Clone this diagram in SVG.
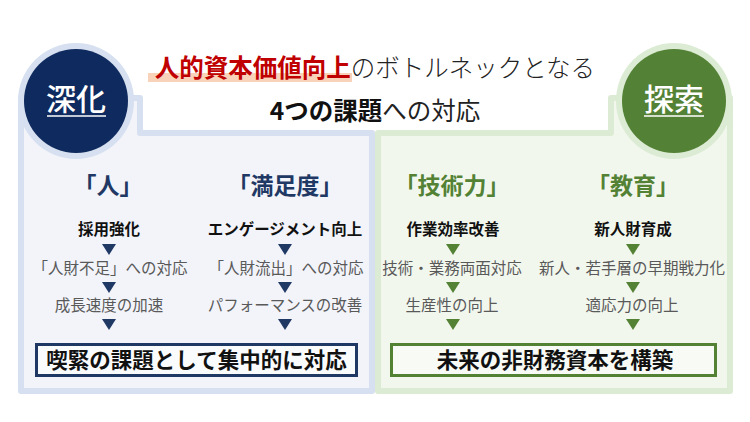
<svg xmlns="http://www.w3.org/2000/svg" xmlns:xlink="http://www.w3.org/1999/xlink" width="750" height="422" viewBox="0 0 750 422">
<style>
  text { font-family: "Noto Sans CJK JP", "Noto Sans", sans-serif; }
  .ttl { font-size: 24.5px; }
  .red { fill: #c00000; font-weight: 700; }
  .lite { fill: #222; font-weight: 300; }
  .b { font-weight: 700; fill: #111; }
  .r { font-weight: 400; fill: #222; }
  .circ { fill: #fff; font-size: 30px; font-weight: 500; }
  .hdN { fill: #1f3864; font-size: 23px; font-weight: 700; }
  .hdG { fill: #548235; font-size: 23px; font-weight: 700; }
  .it1 { fill: #111; font-size: 15.5px; font-weight: 700; }
  .it { fill: #595959; font-size: 15.5px; font-weight: 400; }
  .box { font-size: 21.5px; font-weight: 700; fill: #111; }
  .triN { fill: #1f3864; }
  .triG { fill: #548235; }
</style>
<defs>
  <polygon id="tri" points="-7,0 7,0 0,11"/>
</defs>
<rect width="750" height="422" fill="#fff"/>

<g id="title">
  <rect x="148" y="73" width="204" height="9" fill="#f8cbad" opacity="0.85"/>
  <text class="ttl" x="375" y="77" text-anchor="middle"><tspan class="red">人的資本価値向上</tspan><tspan class="lite">のボトルネックとなる</tspan></text>
  <text class="ttl" x="375" y="120" text-anchor="middle"><tspan class="b">4つの課題</tspan><tspan class="r">への対応</tspan></text>
</g>

<g id="panel-deepen">
  <path d="M140,98 V133 H372 V391 H21 V98 Z" fill="#f2f4fa" stroke="#d6e0f0" stroke-width="6" stroke-linejoin="round"/>
</g>
<g id="panel-explore">
  <path d="M611,98 V133 H378 V391 H730 V98 Z" fill="#f2f7ee" stroke="#dcebd3" stroke-width="6" stroke-linejoin="round"/>
</g>

<g id="circle-deepen">
  <circle cx="76" cy="101" r="58" fill="#d6e0f0"/>
  <circle cx="76" cy="101" r="52" fill="#0f2a5e"/>
  <text class="circ" x="76" y="110" text-anchor="middle">深化</text>
  <line x1="47" y1="116" x2="106" y2="116" stroke="#fff" stroke-width="1.5"/>
</g>
<g id="circle-explore">
  <circle cx="674" cy="101" r="58" fill="#dcebd3"/>
  <circle cx="674" cy="101" r="52" fill="#538135"/>
  <text class="circ" x="674" y="110" text-anchor="middle">探索</text>
  <line x1="644" y1="116" x2="704" y2="116" stroke="#fff" stroke-width="1.5"/>
</g>

<g id="col-hito">
  <text class="hdN" x="108" y="194" text-anchor="middle">「人」</text>
  <text class="it1" x="109" y="235" text-anchor="middle">採用強化</text>
  <text class="it" x="110" y="273.5" text-anchor="middle">「人財不足」への対応</text>
  <text class="it" x="109" y="310.5" text-anchor="middle">成長速度の加速</text>
</g>
<g id="col-manzokudo">
  <text class="hdN" x="285" y="194" text-anchor="middle">「満足度」</text>
  <text class="it1" x="285" y="235" text-anchor="middle">エンゲージメント向上</text>
  <text class="it" x="286" y="273.5" text-anchor="middle">「人財流出」への対応</text>
  <text class="it" x="285" y="310.5" text-anchor="middle">パフォーマンスの改善</text>
</g>
<g id="col-gijutsuryoku">
  <text class="hdG" x="452" y="194" text-anchor="middle">「技術力」</text>
  <text class="it1" x="453" y="235" text-anchor="middle">作業効率改善</text>
  <text class="it" x="452" y="273.5" text-anchor="middle">技術・業務両面対応</text>
  <text class="it" x="452" y="310.5" text-anchor="middle">生産性の向上</text>
</g>
<g id="col-kyoiku">
  <text class="hdG" x="633" y="194" text-anchor="middle">「教育」</text>
  <text class="it1" x="633" y="235" text-anchor="middle">新人財育成</text>
  <text class="it" x="632" y="273.5" text-anchor="middle">新人・若手層の早期戦力化</text>
  <text class="it" x="632" y="310.5" text-anchor="middle">適応力の向上</text>
</g>

<g id="box-deepen">
  <rect x="36.5" y="344.5" width="320" height="31" fill="#fafbfd" stroke="#1f3864" stroke-width="3"/>
  <text class="box" x="196.5" y="368" text-anchor="middle">喫緊の課題として集中的に対応</text>
</g>
<g id="box-explore">
  <rect x="391.5" y="344.5" width="324" height="31" fill="#f7faf5" stroke="#548235" stroke-width="3"/>
  <text class="box" x="555" y="368" text-anchor="middle">未来の非財務資本を構築</text>
</g>

<g id="connectors">
  <use xlink:href="#tri" class="triN" x="109" y="244"/>
  <use xlink:href="#tri" class="triN" x="109" y="282"/>
  <use xlink:href="#tri" class="triN" x="109" y="319"/>
  <use xlink:href="#tri" class="triN" x="285" y="244"/>
  <use xlink:href="#tri" class="triN" x="285" y="282"/>
  <use xlink:href="#tri" class="triN" x="285" y="319"/>
  <use xlink:href="#tri" class="triG" x="453" y="244"/>
  <use xlink:href="#tri" class="triG" x="453" y="282"/>
  <use xlink:href="#tri" class="triG" x="453" y="319"/>
  <use xlink:href="#tri" class="triG" x="633" y="244"/>
  <use xlink:href="#tri" class="triG" x="633" y="282"/>
  <use xlink:href="#tri" class="triG" x="633" y="319"/>
</g>
</svg>
